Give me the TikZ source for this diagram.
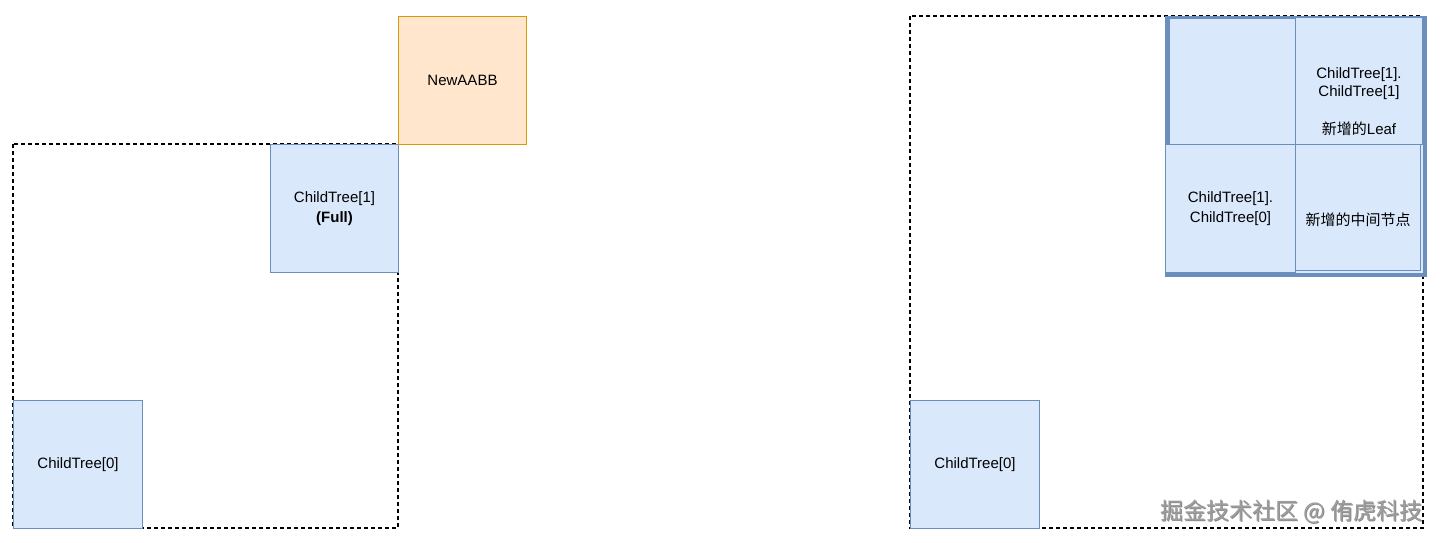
\documentclass[tikz,border=0pt]{standalone}
\usepackage{fontspec}
\setmainfont{Liberation Sans}
\newfontfamily\cjk{Noto Sans CJK SC}
\definecolor{bfill}{HTML}{DAE8FC}
\definecolor{bdraw}{HTML}{6C8EBF}
\definecolor{ofill}{HTML}{FFE6CC}
\definecolor{odraw}{HTML}{D79B00}
\definecolor{wm}{HTML}{9C9C9C}
\begin{document}
\begin{tikzpicture}[x=1pt,y=-1pt,
  bluebox/.style={draw=bdraw,fill=bfill,line width=1pt,inner sep=0pt,anchor=north west,
    align=center,font=\fontsize{15}{20}\selectfont},
  orangebox/.style={draw=odraw,fill=ofill,line width=1pt,inner sep=0pt,anchor=north west,
    align=center,font=\fontsize{15}{20}\selectfont},
  celltext/.style={align=center,inner sep=0pt,font=\fontsize{15}{18.5}\selectfont},
  dashbox/.style={draw=black,line width=1.3pt,dash pattern=on 4pt off 3pt}]
\useasboundingbox[fill=white] (0,0) rectangle (1440,543);
% left diagram
\draw[dashbox] (13,144) rectangle (398,528);
\node[bluebox,minimum width=129pt,minimum height=128pt] (lc0) at (13,400) {ChildTree[0]};
\node[bluebox,minimum width=128pt,minimum height=128pt] (lc1) at (270,144) {ChildTree[1]\\\textbf{(Full)}};
\node[orangebox,minimum width=128pt,minimum height=128pt] (aabb) at (398,16) {NewAABB};
% right diagram
\draw[dashbox] (910,16) rectangle (1423,528);
\node[bluebox,minimum width=129pt,minimum height=128pt] (rc0) at (910,400) {ChildTree[0]};
\node[draw=bdraw,fill=bfill,line width=4pt,inner sep=0pt,anchor=north west,minimum width=258pt,minimum height=257pt] (outer) at (1165,16) {};
\node[bluebox,minimum width=126pt,minimum height=126pt] (tl) at (1169,18) {};
\node[bluebox,minimum width=127pt,minimum height=127pt] (tr) at (1295,17) {};
\node[celltext] (trt) at ([yshift=-20.5pt]tr.center) {ChildTree[1].\\ChildTree[1]\\[19pt]{\cjk 新增的}Leaf};
\node[bluebox,minimum width=130pt,minimum height=128pt] (bl) at (1165,144) {ChildTree[1].\\ChildTree[0]};
\node[bluebox,minimum width=125pt,minimum height=126pt] (br) at (1295,144) {};
\node[celltext] (brt) at ([yshift=-12pt]br.center) {{\cjk 新增的中间节点}};
% watermark
\node[anchor=east,text=black!45,font=\cjk\fontsize{23}{26}\selectfont,inner sep=0pt] at (1423.8,512.8) {掘金技术社区 @ 侑虎科技};
\node[anchor=east,text=wm,font=\cjk\fontsize{23}{26}\selectfont,inner sep=0pt] (wmk) at (1423,512) {掘金技术社区 @ 侑虎科技};
\end{tikzpicture}
\end{document}
